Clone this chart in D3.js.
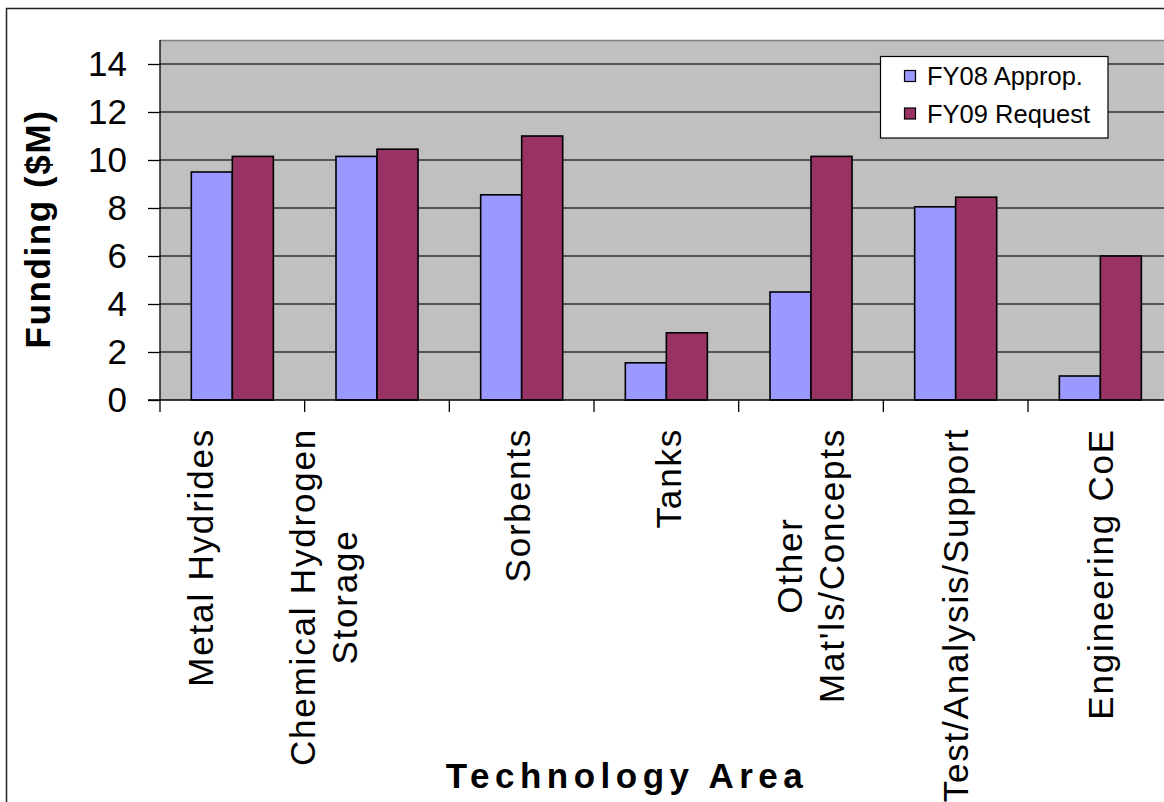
<!DOCTYPE html>
<html><head><meta charset="utf-8">
<script src="https://cdn.jsdelivr.net/npm/d3@7"></script>
<style>
html,body{margin:0;padding:0;background:#fff;}
svg{display:block;font-family:"Liberation Sans",Arial,sans-serif;}
</style></head>
<body>
<svg id="chart" width="1164" height="802"></svg>
<script>
// ---- data ----
const categories = ["Metal Hydrides","Chemical Hydrogen Storage","Sorbents","Tanks","Other Mat'ls/Concepts","Test/Analysis/Support","Engineering CoE"];
const categoryLines = [["Metal Hydrides"],["Chemical Hydrogen","Storage"],["Sorbents"],["Tanks"],["Other","Mat'ls/Concepts"],["Test/Analysis/Support"],["Engineering CoE"]];
const seriesNames = ["FY08 Approp.","FY09 Request"];
const fy08 = [9.5, 10.15, 8.55, 1.55, 4.5, 8.05, 1.0];
const fy09 = [10.15, 10.45, 11.0, 2.8, 10.15, 8.45, 6.0];
const yTicks = [0,2,4,6,8,10,12,14];
const yTitle = "Funding ($M)";
const xTitle = "Technology Area";

// ---- layout ----
const colors = ["#9999FF","#993366"];
const plotL = 160, plotT = 40, plotB = 400, step = 144.67;
const plotR = plotL + step*categories.length;
const groupFrac = 0.567;
const labelShift = [-32,-53,-4,2,0,0,0];

const svg = d3.select("#chart");

// outer frame
svg.append("rect").attr("x",6.5).attr("y",8.5).attr("width",1200).attr("height",900)
  .attr("fill","#fff").attr("stroke","#222").attr("stroke-width",1.5);

const x0 = d3.scaleBand().domain(categories).range([plotL, plotR]).padding(0);
const bw = x0.bandwidth();
const x1 = d3.scaleBand().domain(seriesNames)
  .range([bw*(1-groupFrac)/2, bw*(1+groupFrac)/2]).padding(0);
const y = d3.scaleLinear().domain([0,15]).range([plotB, plotT]);

// plot background
svg.append("rect").attr("x",plotL).attr("y",plotT).attr("width",plotR-plotL).attr("height",plotB-plotT)
  .attr("fill","#C0C0C0");
svg.append("line").attr("x1",plotL).attr("x2",plotR).attr("y1",plotT+0.5).attr("y2",plotT+0.5)
  .attr("stroke","#808080").attr("stroke-width",1.5);

// gridlines
svg.append("g").selectAll("line").data(yTicks.filter(d=>d>0)).join("line")
  .attr("x1",plotL).attr("x2",plotR).attr("y1",d=>y(d)).attr("y2",d=>y(d))
  .attr("stroke","#333").attr("stroke-width",1.3);

// y axis
const yAxis = d3.axisLeft(y).tickValues(yTicks).tickSize(12).tickPadding(21).tickFormat(d3.format("d"));
const gy = svg.append("g").attr("transform",`translate(${plotL},0)`).call(yAxis);
gy.select(".domain").attr("stroke","#000").attr("stroke-width",1.3).attr("d",`M-12,${plotB}H0V${plotT}`);
gy.selectAll(".tick line").attr("stroke","#000").attr("stroke-width",1.3);
gy.selectAll(".tick text").attr("font-size",35).attr("fill","#000").attr("font-family","Liberation Sans, Arial, sans-serif");

// bars
const data = categories.map((c,i)=>({cat:c, vals:[fy08[i],fy09[i]]}));
const groups = svg.append("g").selectAll("g").data(data).join("g")
  .attr("transform",d=>`translate(${x0(d.cat)},0)`);
groups.selectAll("rect").data(d=>d.vals.map((v,j)=>({name:seriesNames[j],v,j}))).join("rect")
  .attr("x",d=>x1(d.name)).attr("width",x1.bandwidth())
  .attr("y",d=>y(d.v)).attr("height",d=>y(0)-y(d.v))
  .attr("fill",d=>colors[d.j]).attr("stroke","#000").attr("stroke-width",1.6);

// x axis line and ticks
svg.append("line").attr("x1",plotL).attr("x2",plotR).attr("y1",plotB).attr("y2",plotB)
  .attr("stroke","#000").attr("stroke-width",1.5);
const boundaries = categories.map(c=>x0(c)).concat([plotR]);
svg.append("g").selectAll("line").data(boundaries).join("line")
  .attr("x1",d=>d).attr("x2",d=>d).attr("y1",plotB).attr("y2",plotB+12)
  .attr("stroke","#000").attr("stroke-width",1.3);

// category labels (rotated)
const lh = 42;
categories.forEach((c,i)=>{
  const cx = x0(c)+bw/2+labelShift[i];
  const lines = categoryLines[i];
  const t = svg.append("text").attr("transform",`translate(${cx},428) rotate(-90)`)
    .attr("text-anchor","middle").attr("font-size",35).attr("letter-spacing",1.8).attr("fill","#000");
  const n = lines.length;
  lines.forEach((ln,k)=>{
    t.append("tspan").attr("x",0).attr("y",(k-(n-1)/2)*lh).attr("dy","0.35em").text(ln);
  });
  const bb = t.node().getBBox();
  t.selectAll("tspan").attr("x",-bb.width/2);
});

// axis titles
svg.append("text").attr("transform",`translate(50,229) rotate(-90)`)
  .attr("text-anchor","middle").attr("font-size",35).attr("font-weight","bold")
  .attr("letter-spacing",1.6).text(yTitle);
svg.append("text").attr("x",627).attr("y",788)
  .attr("text-anchor","middle").attr("font-size",35).attr("font-weight","bold")
  .attr("letter-spacing",5.5).text(xTitle);

// legend
const lg = svg.append("g");
lg.append("rect").attr("x",880.5).attr("y",56.5).attr("width",227.5).attr("height",81.5)
  .attr("fill","#fff").attr("stroke","#000").attr("stroke-width",1.2);
seriesNames.forEach((s,j)=>{
  const cy = 76 + j*37.5;
  lg.append("rect").attr("x",904.5).attr("y",cy-5.5).attr("width",11).attr("height",11)
    .attr("fill",colors[j]).attr("stroke","#000").attr("stroke-width",1.2);
  lg.append("text").attr("x",927).attr("y",cy+9).attr("font-size",25.5).attr("fill","#000").text(s);
});
</script>
</body></html>
